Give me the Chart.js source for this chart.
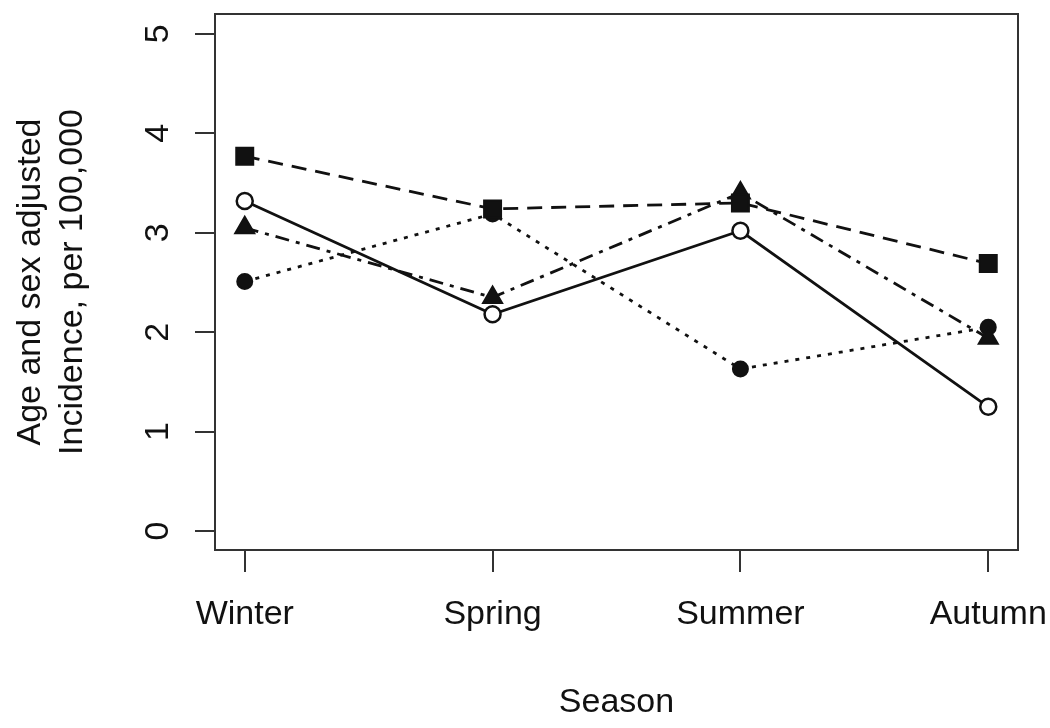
<!DOCTYPE html>
<html>
<head>
<meta charset="utf-8">
<script src="https://cdn.jsdelivr.net/npm/chart.js@4/dist/chart.umd.min.js"></script>
<style>
	html, body { margin: 0; padding: 0; background: #fff; }
	#wrap { width: 1050px; height: 728px; }
</style>
</head>
<body>
<div id="wrap"><canvas id="chart"></canvas></div>
<script>
// categorías (eje x) y valores
const seasons = ["Winter", "Spring", "Summer", "Autumn"];
const yTicks = [0, 1, 2, 3, 4, 5];

const squareSeries = [3.77, 3.24, 3.30, 2.69];   // cuadrado, línea discontinua
const openSeries = [3.32, 2.18, 3.02, 1.25];     // círculo abierto, línea continua
const triangleSeries = [3.05, 2.35, 3.40, 1.94]; // triángulo, punto-raya
const dotSeries = [2.51, 3.19, 1.63, 2.05];      // círculo lleno, punteada

const INK = "#111";
const FONT = "'Liberation Sans', Arial, sans-serif";

function toPoints(values){
	return values.map((v, i) => ({ x: i, y: v }));
}

function makeDataset(values, opts){
	return Object.assign({
		data: toPoints(values),
		borderColor: INK,
		borderWidth: 2.8,
		pointBorderColor: INK,
		pointBackgroundColor: INK,
		pointBorderWidth: 2,
		pointRadius: 7,
		tension: 0,
		fill: false
	}, opts);
}

// sin relleno extra: el área de trazado queda fija
function noPadding(axis){
	axis.paddingTop = 0;
	axis.paddingBottom = 0;
	axis.paddingLeft = 0;
	axis.paddingRight = 0;
}

// marco completo alrededor del área de trazado (estilo R)
const boxPlugin = {
	id: "box",
	beforeDatasetsDraw(chart){
		const { ctx, chartArea: a } = chart;
		ctx.save();
		ctx.strokeStyle = "#333";
		ctx.lineWidth = 2;
		ctx.strokeRect(a.left, a.top, a.right - a.left, a.bottom - a.top);
		ctx.restore();
	}
};

new Chart(document.getElementById("chart"), {
	type: "line",
	data: {
		datasets: [
			makeDataset(squareSeries, { borderDash: [15, 9], pointStyle: "rect", pointRadius: 12 }),
			makeDataset(triangleSeries, { borderDash: [14, 7, 4, 7], pointStyle: "triangle", pointRadius: 11 }),
			makeDataset(dotSeries, { borderDash: [4, 7], pointStyle: "circle", pointRadius: 7.5 }),
			makeDataset(openSeries, { pointStyle: "circle", pointRadius: 8, pointBackgroundColor: "#fff", pointBorderWidth: 2.5 })
		]
	},
	options: {
		responsive: true,
		maintainAspectRatio: false,
		animation: false,
		events: [],
		layout: { padding: { top: 13, right: 32, left: 0, bottom: 0 } },
		plugins: { legend: { display: false }, tooltip: { enabled: false } },
		scales: {
			x: {
				type: "linear",
				min: -0.12,
				max: 3.12,
				afterBuildTicks: axis => { axis.ticks = seasons.map((s, i) => ({ value: i })); },
				afterFit: axis => { axis.height = 178; noPadding(axis); },
				border: { display: false },
				grid: { drawOnChartArea: false, drawTicks: true, tickLength: 22, color: "#333", lineWidth: 2 },
				ticks: {
					autoSkip: false,
					maxRotation: 0,
					padding: 22,
					color: INK,
					font: { family: FONT, size: 34 },
					callback: v => seasons[v]
				},
				title: {
					display: true,
					text: "Season",
					color: INK,
					font: { family: FONT, size: 34 },
					padding: { top: 0, bottom: 5 }
				}
			},
			y: {
				min: -0.19,
				max: 5.2,
				afterBuildTicks: axis => { axis.ticks = yTicks.map(v => ({ value: v })); },
				afterFit: axis => { axis.width = 215; noPadding(axis); },
				border: { display: false },
				grid: { drawOnChartArea: false, drawTicks: true, tickLength: 20, color: "#333", lineWidth: 2 },
				ticks: {
					minRotation: 90,
					maxRotation: 90,
					labelOffset: -9.5,
					padding: 36,
					color: INK,
					font: { family: FONT, size: 34 },
					callback: v => String(v)
				},
				title: {
					display: true,
					text: ["Age and sex adjusted", "Incidence, per 100,000"],
					color: INK,
					font: { family: FONT, size: 34, lineHeight: 1.25 },
					padding: { top: 9, bottom: 0 }
				}
			}
		}
	},
	plugins: [boxPlugin]
});
</script>
</body>
</html>
